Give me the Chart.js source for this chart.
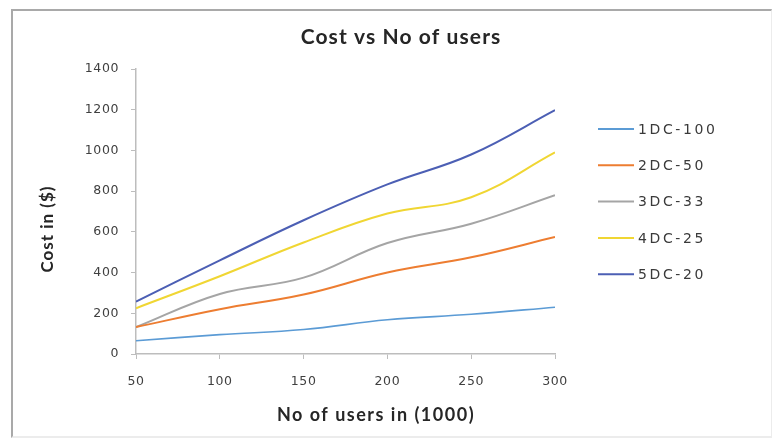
<!DOCTYPE html>
<html>
<head>
<meta charset="utf-8">
<script src="https://cdn.jsdelivr.net/npm/chart.js@4/dist/chart.umd.min.js"></script>
<style>
  html, body { margin: 0; padding: 0; background: #fff; }
  #wrap { position: relative; width: 777px; height: 443px; overflow: hidden; }
  #frame {
    position: absolute; left: 11px; top: 9px; width: 758px; height: 425px;
    border-left: 2px solid #a9a9a9; border-top: 2px solid #a9a9a9;
    border-right: 1px solid #ececec; border-bottom: 2px solid #ececec;
  }
  canvas { position: absolute; left: 0; top: 0; }
</style>
</head>
<body>
<div id="wrap">
  <div id="frame"></div>
  <canvas id="c" width="777" height="443"></canvas>
</div>
<script>
// Users (thousands) on the x axis
const users = [50, 100, 150, 200, 250, 300];

// Cost in dollars for each data-centre configuration
const dc1 = [65, 95, 120, 168, 195, 230];
const dc2 = [132, 220, 292, 400, 475, 575];
const dc3 = [132, 295, 375, 545, 640, 780];
const dc4 = [225, 382, 548, 690, 770, 990];
const dc5 = [257, 460, 657, 833, 980, 1198];

const seriesNames = ['1DC-100', '2DC-50', '3DC-33', '4DC-25', '5DC-20'];
const seriesValues = [dc1, dc2, dc3, dc4, dc5];
const seriesColors = ['#5B9BD5', '#ED7D31', '#A5A5A5', '#F0D633', '#4C5FB4'];

const yTicks = [0, 200, 400, 600, 800, 1000, 1200, 1400];
const xTicks = [50, 100, 150, 200, 250, 300];

const chartTitle = 'Cost vs No of users';
const xTitle = 'No of users in (1000)';
const yTitle = 'Cost in ($)';

const datasets = seriesNames.map((name, i) => ({
  label: name,
  data: users.map((u, j) => ({ x: u, y: seriesValues[i][j] })),
  borderColor: seriesColors[i],
  backgroundColor: seriesColors[i],
  borderWidth: i === 0 ? 1.6 : 2,
  pointRadius: 0,
  tension: 0.4,
  fill: false
}));

function setSpacing(chart) {
  if ('letterSpacing' in chart.ctx) chart.ctx.letterSpacing = '0.6px';
}

// Titles and the legend are painted on the canvas at fixed spots
const decorations = {
  id: 'decorations',
  beforeUpdate(chart) { setSpacing(chart); },
  beforeDraw(chart) { setSpacing(chart); },
  afterDraw(chart) {
    const ctx = chart.ctx;
    ctx.save();
    ctx.textBaseline = 'middle';
    ctx.fillStyle = '#262626';
    ctx.textAlign = 'center';

    // chart title
    ctx.letterSpacing = '1.1px';
    ctx.font = 'bold 21px Lato';
    ctx.fillText(chartTitle, 401, 37);

    // x axis title
    ctx.letterSpacing = '1.5px';
    ctx.font = 'bold 18px Lato';
    ctx.fillText(xTitle, 376, 415);

    // y axis title
    ctx.letterSpacing = '1px';
    ctx.font = 'bold 17px Lato';
    ctx.save();
    ctx.translate(48, 229);
    ctx.rotate(-Math.PI / 2);
    ctx.fillText(yTitle, 0, 0);
    ctx.restore();

    // legend
    ctx.letterSpacing = '2.6px';
    ctx.font = '14px "DejaVu Sans"';
    ctx.textAlign = 'left';
    chart.data.datasets.forEach((ds, i) => {
      const y = 129 + i * 36.3;
      ctx.strokeStyle = ds.borderColor;
      ctx.lineWidth = 2;
      ctx.beginPath();
      ctx.moveTo(598, y);
      ctx.lineTo(634, y);
      ctx.stroke();
      ctx.fillStyle = '#3a3a3a';
      ctx.fillText(ds.label, 638, y + 1);
    });
    ctx.restore();
  }
};

const tickFont = { family: 'DejaVu Sans', size: 12.5 };

new Chart(document.getElementById('c'), {
  type: 'line',
  data: { datasets },
  plugins: [decorations],
  options: {
    responsive: false,
    animation: false,
    layout: { padding: { left: 0, right: 222, top: 69, bottom: 0 } },
    plugins: {
      legend: { display: false },
      title: { display: false },
      tooltip: { enabled: false }
    },
    scales: {
      x: {
        type: 'linear',
        min: xTicks[0],
        max: xTicks[xTicks.length - 1],
        afterBuildTicks(scale) { scale.ticks = xTicks.map(v => ({ value: v })); },
        afterFit(scale) { scale.height = 89; },
        ticks: {
          color: '#404040',
          font: tickFont,
          padding: 15,
          maxRotation: 0,
          callback: v => String(v)
        },
        grid: { drawOnChartArea: false, drawTicks: true, tickLength: 5, color: '#bdbdbd' },
        border: { display: true, color: '#bdbdbd', width: 1.5 }
      },
      y: {
        min: yTicks[0],
        max: yTicks[yTicks.length - 1],
        afterBuildTicks(scale) { scale.ticks = yTicks.map(v => ({ value: v })); },
        afterFit(scale) { scale.width = 136; },
        ticks: {
          color: '#404040',
          font: tickFont,
          padding: 12,
          callback: v => String(v)
        },
        grid: { drawOnChartArea: false, drawTicks: true, tickLength: 5, color: '#bdbdbd' },
        border: { display: true, color: '#bdbdbd', width: 1.5 }
      }
    }
  }
});
</script>
</body>
</html>
